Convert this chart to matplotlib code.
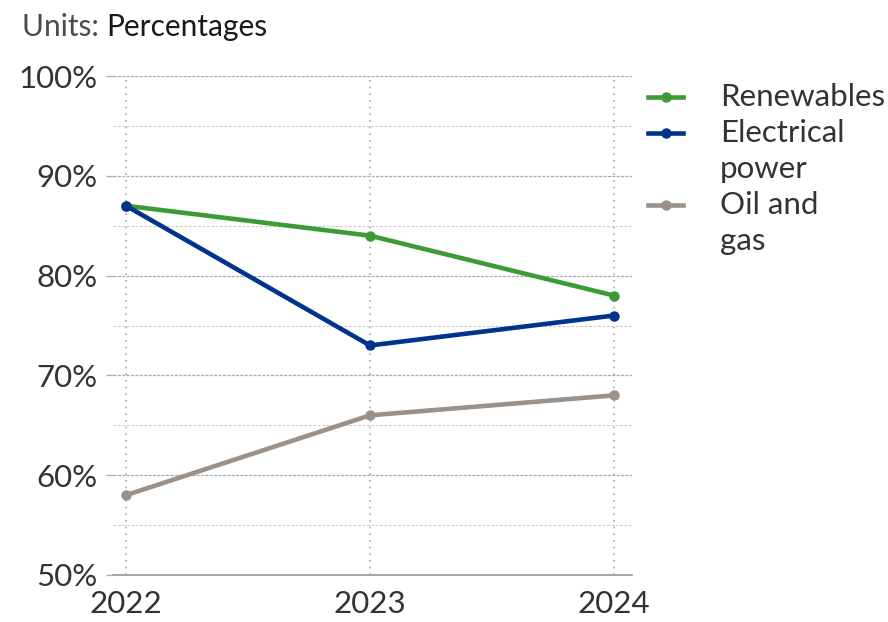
import matplotlib.pyplot as plt
from matplotlib.lines import Line2D
from matplotlib.ticker import MultipleLocator, FuncFormatter

years = [2022, 2023, 2024]
renewables = [87, 84, 78]
electrical = [87, 73, 76]
oil_gas = [58, 66, 68]

series = [
    ('Renewables', renewables, '#3d9b35'),
    ('Electrical\npower', electrical, '#00338d'),
    ('Oil and\ngas', oil_gas, '#9a918a'),
]

plt.rcParams['font.family'] = ['Lato', 'DejaVu Sans']
text_col = '#333333'
fs = 22.5

fig = plt.figure(figsize=(8.88, 6.22), dpi=100)
ax = fig.add_axes([113 / 888, 1 - 575 / 622, (632 - 113) / 888, (575 - 76) / 622])

for name, vals, col in series:
    ax.plot(years, vals, color=col, lw=3.3, marker='o', ms=6.5, solid_capstyle='butt', zorder=3)

ax.set_xlim(2022 - 13 / 244, 2024 + 18 / 244)
ax.set_ylim(50, 100)
ax.set_xticks(years)
ax.xaxis.set_major_formatter(FuncFormatter(lambda v, p: f'{int(v)}'))
ax.yaxis.set_major_locator(MultipleLocator(10))
ax.yaxis.set_minor_locator(MultipleLocator(5))
ax.yaxis.set_major_formatter(FuncFormatter(lambda v, p: f'{int(v)}%'))

for s in ax.spines.values():
    s.set_visible(False)
ax.axhline(50, color='#999999', lw=1.2, zorder=2, clip_on=False)

# grid: dashed major, lighter dashed minor, dotted verticals
ax.grid(axis='y', which='major', color='#aaaaaa', ls=(0, (2.5, 1)), lw=0.9)
ax.grid(axis='y', which='minor', color='#cccccc', ls=(0, (2.5, 1.5)), lw=0.8)
ax.grid(axis='x', which='major', color='#aaaaaa', ls=(0, (1, 3)), lw=1.2)

ax.tick_params(axis='y', which='major', length=5, width=0.9, color='#aaaaaa',
               labelsize=fs, labelcolor=text_col, pad=6)
ax.tick_params(axis='y', which='minor', length=0)
ax.tick_params(axis='x', length=0, labelsize=fs, labelcolor=text_col, pad=11)

# units line: light "Units:" followed by darker "Percentages"
t1 = fig.text(22 / 888, 1 - 27 / 622, 'Units: ', fontsize=21.5, color='#4a4a4a', va='center')
ax.annotate('Percentages', xy=(1, 0.5), xycoords=t1, va='center', ha='left',
            fontsize=21.5, color='#1a1a1a', annotation_clip=False)

# legend drawn by hand so the wrapped labels line up
row = 36 / 622
y0 = 1 - 97 / 622
line_rows = 0
for name, vals, col in series:
    y = y0 - line_rows * row
    fig.add_artist(Line2D([648 / 888, 683 / 888], [y, y], color=col, lw=3.3,
                          transform=fig.transFigure))
    fig.add_artist(Line2D([665.5 / 888], [y], color=col, marker='o', ms=6.5,
                          transform=fig.transFigure))
    for k, part in enumerate(name.split('\n')):
        fig.text(720 / 888, y - k * row, part, fontsize=fs, color=text_col, va='center')
    line_rows += len(name.split('\n'))

fig.savefig('out.png', dpi=100)
